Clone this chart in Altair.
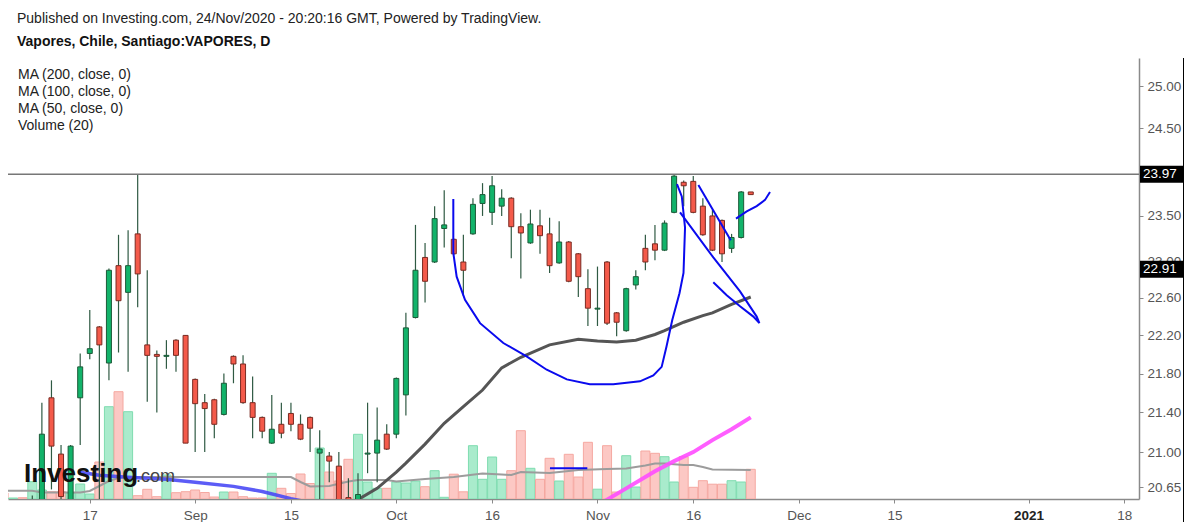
import altair as alt
import pandas as pd

FONT = "Liberation Sans, Arial, sans-serif"

# ---------------- data ----------------
FIRST_INDEX = -3  # trading-day index of the first bar (Aug 17 = 6)
DATES = ["2020-08-04","2020-08-05","2020-08-06","2020-08-07","2020-08-10","2020-08-11","2020-08-12","2020-08-13","2020-08-14",
         "2020-08-17","2020-08-18","2020-08-19","2020-08-20","2020-08-21","2020-08-24","2020-08-25","2020-08-26","2020-08-27",
         "2020-08-28","2020-08-31","2020-09-01","2020-09-02","2020-09-03","2020-09-04","2020-09-07","2020-09-08","2020-09-09",
         "2020-09-10","2020-09-11","2020-09-14","2020-09-15","2020-09-16","2020-09-17","2020-09-21","2020-09-22","2020-09-23",
         "2020-09-24","2020-09-25","2020-09-28","2020-09-29","2020-09-30","2020-10-01","2020-10-02","2020-10-05","2020-10-06",
         "2020-10-07","2020-10-08","2020-10-09","2020-10-13","2020-10-14","2020-10-15","2020-10-16","2020-10-19","2020-10-20",
         "2020-10-21","2020-10-22","2020-10-23","2020-10-26","2020-10-27","2020-10-28","2020-10-29","2020-10-30","2020-11-02",
         "2020-11-03","2020-11-04","2020-11-05","2020-11-06","2020-11-09","2020-11-10","2020-11-11","2020-11-12","2020-11-13",
         "2020-11-16","2020-11-17","2020-11-18","2020-11-19","2020-11-20","2020-11-23","2020-11-24"]
OPEN = [20.48, 20.44, 20.46, 20.42, 20.45, 21.55, 20.98, 20.50, 21.55, 22.01, 22.29, 21.91, 22.95, 22.66, 23.30, 22.10,
        22.00, 21.98, 22.15, 22.20, 21.74, 21.50, 21.53, 21.38, 21.98, 21.90, 21.50, 21.35, 21.09, 21.28, 21.39, 21.28,
        21.35, 20.99, 20.96, 20.86, 20.55, 20.52, 20.98, 20.99, 21.18, 21.18, 21.58, 22.39, 23.04, 22.99, 23.36, 23.24,
        22.99, 23.30, 23.64, 23.54, 23.61, 23.70, 23.38, 23.20, 23.39, 23.30, 22.98, 23.21, 23.08, 22.70, 22.48, 22.99,
        22.44, 22.25, 22.74, 23.14, 23.19, 23.12, 23.54, 23.88, 23.89, 23.61, 23.50, 23.45, 23.14, 23.26, 23.77]
HIGH = [20.50, 20.50, 20.50, 20.57, 21.50, 21.73, 21.07, 21.07, 22.01, 22.47, 22.30, 22.92, 23.29, 23.34, 23.97, 22.90,
        22.04, 22.15, 22.16, 22.20, 21.75, 21.59, 21.54, 21.80, 21.99, 21.99, 21.77, 21.36, 21.58, 21.50, 21.50, 21.38,
        21.36, 21.22, 21.00, 21.00, 20.74, 20.79, 21.50, 21.45, 21.28, 21.76, 22.44, 23.40, 23.20, 23.61, 23.79, 23.25,
        23.29, 23.70, 23.87, 23.95, 23.80, 23.71, 23.53, 23.57, 23.57, 23.48, 23.44, 23.22, 23.09, 22.91, 22.94, 23.00,
        22.45, 22.71, 22.90, 23.29, 23.40, 23.45, 23.97, 23.90, 23.95, 23.70, 23.57, 23.46, 23.30, 23.78, 23.77]
LOW = [20.40, 20.40, 20.40, 20.40, 20.40, 20.63, 20.50, 20.45, 21.07, 21.95, 20.50, 21.73, 22.02, 21.82, 22.50, 21.51,
       21.40, 21.85, 21.82, 21.09, 21.00, 21.00, 21.14, 21.37, 21.70, 21.49, 21.14, 21.14, 21.08, 21.14, 21.21, 21.12,
       21.00, 20.50, 20.70, 20.45, 20.50, 20.48, 20.79, 20.70, 21.02, 21.14, 21.37, 22.38, 22.55, 22.98, 23.15, 23.07,
       22.62, 23.29, 23.50, 23.40, 23.50, 23.03, 22.81, 23.19, 23.08, 22.87, 22.97, 22.77, 22.61, 22.30, 22.30, 22.31,
       22.19, 22.24, 22.69, 22.90, 23.01, 23.11, 23.53, 23.61, 23.53, 23.28, 23.11, 22.99, 23.09, 23.25, 23.74]
CLOSE = [20.44, 20.45, 20.45, 20.48, 21.18, 21.06, 20.56, 21.06, 21.87, 22.06, 22.10, 22.90, 22.57, 22.95, 22.86, 21.99,
         21.98, 21.99, 21.99, 21.09, 21.49, 21.44, 21.28, 21.70, 21.90, 21.50, 21.35, 21.21, 21.23, 21.19, 21.28, 21.13,
         21.24, 21.03, 20.91, 20.50, 20.53, 20.58, 20.99, 21.12, 21.03, 21.75, 22.28, 22.90, 22.78, 23.47, 23.40, 23.08,
         22.90, 23.63, 23.74, 23.84, 23.70, 23.38, 23.31, 23.41, 23.28, 22.95, 23.21, 22.78, 22.83, 22.49, 22.49, 22.33,
         22.34, 22.70, 22.83, 22.99, 23.12, 23.42, 23.95, 23.84, 23.54, 23.29, 23.12, 23.08, 23.26, 23.77, 23.74]
VOLUME = [0.6, 0.1, 0.13, 1.73, 0.9, 0.73, 0.73, 0.6, 1.5, 0.5, 3.7, 9.23, 10.73, 8.73, 0.33, 0.97, 0.23, 2.4, 0.63,
          0.73, 0.9, 0.65, 0.2, 0.7, 0.7, 0.23, 0.1, 0.1, 2.57, 1.07, 0.55, 2.5, 1.55, 5.1, 2.7, 1.8, 3.97, 6.47, 1.7,
          1.07, 1.07, 1.7, 1.6, 1.8, 1.23, 2.83, 0.17, 2.48, 0.72, 5.33, 1.97, 4.2, 1.97, 2.83, 6.83, 3.07, 1.97, 4.07,
          1.8, 4.47, 2.2, 5.67, 0.98, 5.33, 0.7, 4.33, 1.2, 4.8, 4.57, 4.23, 1.7, 4.23, 1.17, 1.83, 1.48, 1.48, 1.83,
          1.7, 2.97]

# moving averages (bar index, value)
MA200_IDX = [5, 7, 10, 14, 17, 21, 24, 27, 29]
MA200_VAL = [20.80, 20.77, 20.75, 20.73, 20.70, 20.66, 20.61, 20.54, 20.50]
MA100_IDX = [59, 60, 62, 65, 67, 69, 71, 73, 75]
MA100_VAL = [20.47, 20.53, 20.64, 20.81, 20.91, 21.00, 21.12, 21.23, 21.35]
MA50_IDX = [33, 34, 36, 38, 39, 41, 43, 45, 47, 49, 51, 54, 57, 59, 61, 63, 65, 66, 68, 70, 71, 73, 75]
MA50_VAL = [20.48, 20.53, 20.64, 20.80, 20.89, 21.08, 21.29, 21.46, 21.63, 21.86, 21.97, 22.10, 22.16, 22.14, 22.13,
            22.15, 22.21, 22.25, 22.34, 22.41, 22.44, 22.53, 22.61]
VMA_IDX = [-3, 0, 1, 5, 6, 7, 8, 9, 10, 27, 28, 29, 31, 33, 34, 37, 38, 41, 44, 47, 49, 50, 51, 54, 57, 60, 62, 64,
           65, 66, 68, 69, 70, 71, 75]
VMA_VAL = [0.83, 0.83, 0.65, 0.65, 0.8, 1.3, 1.8, 2.1, 2.2, 2.2, 1.7, 1.25, 1.3, 1.75, 1.9, 1.9, 1.75, 2.0, 2.2,
           2.55, 2.45, 2.4, 2.7, 2.6, 2.9, 3.0, 3.05, 3.35, 3.55, 3.55, 3.4, 3.4, 3.2, 2.95, 2.9]

# hand-drawn annotations, anchored at (bar index, price)
DRAW_ID = (["cup"] * 21 + ["wedge"] * 9 + ["short"] * 2 + ["hook"] * 5 + ["flat"] * 2)
DRAW_BAR = [43.95, 43.95, 44.3, 45.17, 46.74, 49.17, 51.6, 53.7, 55.8, 58.2, 60.65, 63.44, 64.83, 65.7, 66.2, 66.8,
            67.56, 67.98, 68.14, 67.8, 67.3,
            67.62, 71.09, 73.88, 75.62, 75.9, 75.27, 73.88, 72.49, 71.09,
            69.53, 72.91,
            73.46, 74.58, 75.62, 76.49, 77.01,
            54.04, 57.94]
DRAW_PRICE = [23.69, 23.09, 22.83, 22.58, 22.33, 22.12, 21.98, 21.84, 21.74, 21.69, 21.69, 21.72, 21.78, 21.87, 22.08,
              22.36, 22.65, 22.87, 23.37, 23.72, 23.86,
              23.54, 23.04, 22.67, 22.40, 22.33, 22.40, 22.51, 22.63, 22.77,
              23.85, 23.23,
              23.47, 23.55, 23.61, 23.68, 23.77,
              20.84, 20.84]

LEVEL = [23.97]
BADGES = [23.97, 22.91]
TICK_POS = [6, 17, 27, 38, 48, 59, 69, 80, 90, 104, 114]
TICK_LABELS = ["17", "Sep", "15", "Oct", "16", "Nov", "16", "Dec", "15", "2021", "18"]
PRICE_TICKS = [20.65, 21.0, 21.4, 21.8, 22.2, 22.6, 23.0, 23.5, 24.5, 25.0]
LEGEND = ["MA (200, close, 0)", "MA (100, close, 0)", "MA (50, close, 0)", "Volume (20)"]

# ---------------- tables ----------------
df = pd.DataFrame({"i": list(range(FIRST_INDEX, FIRST_INDEX + len(DATES))), "date": DATES,
                   "open": OPEN, "high": HIGH, "low": LOW, "close": CLOSE, "vol": VOLUME})
ma200 = pd.DataFrame({"i": MA200_IDX, "v": MA200_VAL})
ma100 = pd.DataFrame({"i": MA100_IDX, "v": MA100_VAL})
ma50 = pd.DataFrame({"i": MA50_IDX, "v": MA50_VAL})
vma = pd.DataFrame({"i": VMA_IDX, "v": VMA_VAL})
draw = pd.DataFrame({"id": DRAW_ID, "bx": DRAW_BAR, "p": DRAW_PRICE, "k": list(range(len(DRAW_ID)))})
level = pd.DataFrame({"p": LEVEL})
badges = pd.DataFrame({"p": BADGES, "t": [f"{b:.2f}" for b in BADGES]})

# ---------------- scales / axes ----------------
W, H = 1131, 441
label_expr = " : ".join(f"datum.value == {p} ? '{l}'" for p, l in zip(TICK_POS, TICK_LABELS)) + " : ''"
xscale = alt.Scale(domain=[-2.537, 115.53], nice=False, zero=False, padding=0)
xaxis = alt.Axis(values=TICK_POS, labelExpr=label_expr, title=None, grid=False, domainColor="#8a8a8a",
                 domainWidth=1.5, tickColor="#8a8a8a", tickSize=4, labelFontSize=13.5, labelFont=FONT,
                 labelPadding=5, labelOverlap=False, labelFlush=False,
                 labelColor={"condition": {"test": "datum.value == 104", "value": "#222222"}, "value": "#555555"},
                 labelFontWeight={"condition": {"test": "datum.value == 104", "value": "bold"}, "value": "normal"})
yscale = alt.Scale(type="log", domain=[20.536, 25.336], nice=False, padding=0)
yaxis = alt.Axis(orient="right", values=PRICE_TICKS, format=".2f", title=None, grid=False, domainColor="#8a8a8a",
                 domainWidth=1.5, tickColor="#8a8a8a", tickSize=4, labelColor="#555555", labelFontSize=13.5,
                 labelFont=FONT, labelPadding=4, labelOverlap=False, labelFlush=False)
vscale = alt.Scale(domain=[0, 44.1], nice=False, zero=True, padding=0)


def X(field):
    return alt.X(field, type="quantitative", scale=xscale, axis=xaxis)


def Y(field):
    return alt.Y(field, type="quantitative", scale=yscale, axis=yaxis)


def VY(field):
    return alt.Y(field, type="quantitative", scale=vscale, axis=None)


up = "datum.close >= datum.open"

# ---------------- volume pane ----------------
vol_bars = alt.Chart(df).mark_bar(size=9, strokeWidth=1, clip=True).encode(
    x=X("i"), y=VY("vol"),
    fill=alt.condition(up, alt.value("#a9ebcc"), alt.value("#fcc8c4")),
    stroke=alt.condition(up, alt.value("#7fdcb0"), alt.value("#f5a8a1")))
vol_ma = alt.Chart(vma).mark_line(color="#9c9c9c", strokeWidth=2, clip=True).encode(x=X("i"), y=VY("v"))
vol_layer = alt.layer(vol_bars, vol_ma)

# ---------------- price pane ----------------
ma200_line = alt.Chart(ma200).mark_line(color="#4a4af5", strokeWidth=3.5, opacity=0.9, clip=True).encode(
    x=X("i"), y=Y("v"))
ma100_line = alt.Chart(ma100).mark_line(color="#ff4dff", strokeWidth=4, opacity=0.9, clip=True).encode(
    x=X("i"), y=Y("v"))
ma50_line = alt.Chart(ma50).mark_line(color="#555555", strokeWidth=3, clip=True).encode(x=X("i"), y=Y("v"))

wicks = alt.Chart(df).mark_rule(color="#2f5a43", strokeWidth=1.2, clip=True).encode(
    x=X("i"), y=Y("low"), y2="high")
bodies = alt.Chart(df).mark_bar(size=5, strokeWidth=1, clip=True).encode(
    x=X("i"), y=Y("open"), y2="close",
    fill=alt.condition(up, alt.value("#12b36a"), alt.value("#f45a4a")),
    stroke=alt.condition(up, alt.value("#1c5a38"), alt.value("#7a2a22")))

level_line = alt.Chart(level).mark_rule(color="#777777", strokeWidth=1.5).encode(y=Y("p"))

drawings = alt.Chart(draw).mark_line(color="#0a0aee", strokeWidth=2, clip=False).encode(
    x=X("bx"), y=Y("p"), detail="id:N", order="k:Q")

BOX = "M-1,-0.395L1,-0.395L1,0.395L-1,0.395Z"
badge_box = alt.Chart(badges).mark_point(shape=BOX, size=1849, filled=True, color="#000000", opacity=1,
                                         strokeWidth=0).encode(x=alt.value(1153.5), y=Y("p"))
badge_txt = alt.Chart(badges).mark_text(align="left", baseline="middle", fontSize=13.5, font=FONT,
                                        color="#ffffff").encode(x=alt.value(1135), y=Y("p"), text="t:N")

price_layer = alt.layer(ma200_line, ma100_line, ma50_line, wicks, bodies, level_line, drawings,
                        badge_box, badge_txt)


# ---------------- texts ----------------
def txt(s, x, y, size=14, weight="normal", color="#222222", baseline="middle"):
    return alt.Chart(pd.DataFrame({"t": [s]})).mark_text(
        align="left", baseline=baseline, fontSize=size, fontWeight=weight, font=FONT, color=color
    ).encode(x=alt.value(x), y=alt.value(y), text="t:N")


texts = [
    txt("Published on Investing.com, 24/Nov/2020 - 20:20:16 GMT, Powered by TradingView.", 9, -39, size=14),
    txt("Vapores, Chile, Santiago:VAPORES, D", 9, -16, weight="bold", color="#111111"),
]
for n, s in enumerate(LEGEND):
    texts.append(txt(s, 10, 17 + 17 * n, color="#222222"))
texts.append(txt("Investing", 16, 424, size=26, weight="bold", color="#111111", baseline="alphabetic"))
texts.append(txt(".com", 128, 424, size=18, color="#444444", baseline="alphabetic"))

frame = alt.Chart(pd.DataFrame({"a": [0]})).mark_rule(color="#000000", strokeWidth=1).encode(
    x=alt.value(1175.5), y=alt.value(0), y2=alt.value(464))

chart = alt.layer(vol_layer, price_layer, *texts, frame).resolve_scale(y="independent").properties(
    width=W, height=H,
    padding={"left": 0, "top": 50, "right": 46, "bottom": 23},
    autosize=alt.AutoSizeParams(type="none"),
    background="#ffffff",
).configure_view(stroke=None)

chart.save("out.html", embed_options={"renderer": "svg", "actions": False})
